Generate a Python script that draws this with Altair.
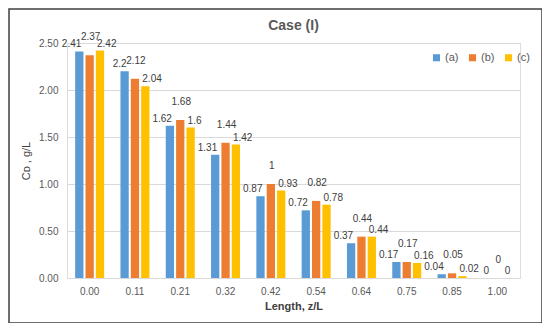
import altair as alt
import pandas as pd

positions = ["0.00", "0.11", "0.21", "0.32", "0.42", "0.54", "0.64", "0.75", "0.85", "1.00"]
series_names = ["(a)", "(b)", "(c)"]
vals_a = [2.41, 2.2, 1.62, 1.31, 0.87, 0.72, 0.37, 0.17, 0.04, 0]
vals_b = [2.37, 2.12, 1.68, 1.44, 1.0, 0.82, 0.44, 0.17, 0.05, 0]
vals_c = [2.42, 2.04, 1.6, 1.42, 0.93, 0.78, 0.44, 0.16, 0.02, 0]
colors = ["#5B9BD5", "#ED7D31", "#FFC000"]
y_ticks = [0, 0.5, 1.0, 1.5, 2.0, 2.5]
chart_title = "Case (I)"

rows = []
for name, vals in zip(series_names, [vals_a, vals_b, vals_c]):
    for p, v in zip(positions, vals):
        rows.append({"pos": p, "series": name, "value": v, "label": f"{v:g}"})
df = pd.DataFrame(rows)

FONT = "Liberation Sans"
W, H = 453, 235

x_enc = alt.X("pos:N", sort=positions,
              scale=alt.Scale(paddingInner=0.36, paddingOuter=0.18),
              axis=alt.Axis(title="Length, z/L", labelAngle=0, ticks=False, domain=False,
                            labelPadding=8, titlePadding=4, labelFontSize=10,
                            labelColor="#595959", titleColor="#404040",
                            titleFontSize=11, titleFontWeight="bold", labelFont=FONT,
                            titleFont=FONT))
xoff = alt.XOffset("series:N", sort=series_names, scale=alt.Scale(paddingInner=0.2, paddingOuter=0))
y_enc = alt.Y("value:Q", scale=alt.Scale(domain=[0, 2.5], nice=False),
              axis=alt.Axis(title="Cᴅ , g/L", values=y_ticks, format=".2f", ticks=False,
                            domain=False, labelPadding=9, titlePadding=7, labelFontSize=10,
                            labelColor="#595959", titleColor="#404040", titleFontSize=11,
                            titleFontWeight="normal", gridColor="#D9D9D9", labelFont=FONT,
                            titleFont=FONT))

base = alt.Chart(df)

bars = base.mark_bar().encode(
    x=x_enc,
    xOffset=xoff,
    y=y_enc,
    color=alt.Color("series:N", sort=series_names,
                    scale=alt.Scale(domain=series_names, range=colors),
                    legend=alt.Legend(title=None, orient="none", direction="horizontal",
                                      legendX=364, legendY=9, symbolType="square",
                                      symbolSize=50, labelFontSize=11, labelColor="#595959",
                                      labelFont=FONT, columnPadding=8, labelOffset=3)),
)

def labels(name, align, dx, dy):
    return base.transform_filter(alt.datum.series == name).mark_text(
        align=align, baseline="bottom", dx=dx, dy=dy, fontSize=10, color="#404040", font=FONT
    ).encode(
        x=alt.X("pos:N", sort=positions),
        xOffset=alt.XOffset("series:N", sort=series_names),
        y=alt.Y("value:Q"),
        text="label:N",
    )

t_a = labels("(a)", "right", 2, -2)
t_b = labels("(b)", "center", 1, -13)
t_c = labels("(c)", "left", -3, -2)

title = alt.Chart(pd.DataFrame({"t": [chart_title]})).mark_text(
    fontSize=14, fontWeight="bold", color="#595959", font=FONT, baseline="middle", align="center"
).encode(x=alt.value(W / 2), y=alt.value(-17), text="t:N")

border = alt.Chart(pd.DataFrame({"k": [0]})).mark_rect(
    fillOpacity=0, stroke="#3F3F3F", strokeWidth=1.5
).encode(
    x=alt.value(-58), x2=alt.value(475), y=alt.value(-34), y2=alt.value(280)
)

chart = alt.layer(bars, t_a, t_b, t_c, title, border).properties(
    width=W, height=H,
    autosize=alt.AutoSizeParams(type="none"),
    padding={"left": 59, "top": 35, "right": 22, "bottom": 45},
).configure_view(stroke=None).configure(background="white")

chart.save("out.html", embed_options={"renderer": "svg", "actions": False})
